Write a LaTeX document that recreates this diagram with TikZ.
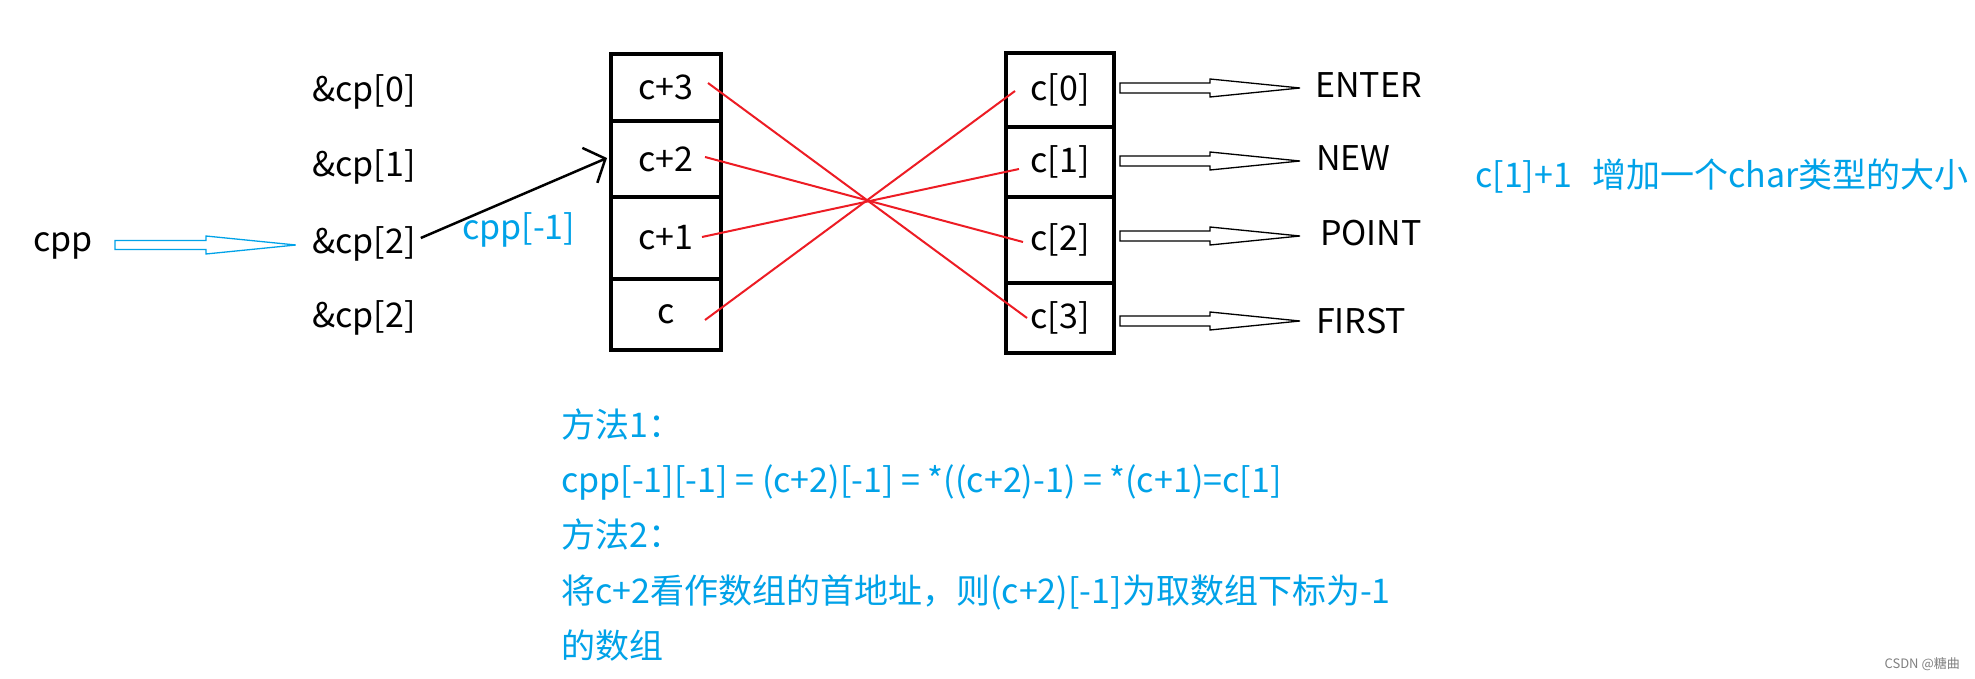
\documentclass[tikz,border=0pt]{standalone}
\usepackage{fontspec}
\setmainfont{Noto Sans CJK SC}
\definecolor{pblue}{RGB}{0,162,232}
\definecolor{pred}{RGB}{237,28,36}
\usetikzlibrary{arrows.meta,calc}

\begin{document}
\begin{tikzpicture}[
  x=1pt,y=-1pt,
  cell/.style={draw,line width=4pt,minimum width=110pt,inner sep=0pt,
    font=\fontsize{34}{40}\selectfont},
  lbl/.style={anchor=west,inner sep=0pt,font=\fontsize{34}{40}\selectfont},
  note/.style={lbl,pblue},
  hollow/.style={draw,line width=1.3pt,fill=white},
  redline/.style={pred,line width=2pt},
  ptr/.style={line width=2.5pt,-{Straight Barb[length=17pt,width=38pt]}}
]
  \fill[white] (0,0) rectangle (1975,679);
  % pointer column
  \node[lbl] (cpp) at (33,246) {cpp};
  \node[lbl] (amp0) at (312,92) {\&cp[0]};
  \node[lbl] (amp1) at (312,167) {\&cp[1]};
  \node[lbl] (amp2) at (312,244) {\&cp[2]};
  \node[lbl] (amp3) at (312,318) {\&cp[2]};
  \draw[hollow,draw=pblue] ($(cpp.east)+(22,-1)$) ++(0,-4.5) -- ++(91,0) -- ++(0,-4.5)
    -- ++(90,9) -- ++(-90,9) -- ++(0,-4.5) -- ++(-91,0) -- cycle;
  \node[note] (cppm) at (462,230) {cpp[-1]};
  % cp column
  \node[cell,minimum height=67pt] (L3) at (666,87.5) {c+3};
  \node[cell,minimum height=76pt] (L2) at (666,159) {c+2};
  \node[cell,minimum height=82pt] (L1) at (666,238) {c+1};
  \node[cell,minimum height=71pt] (L0) at (666,314.5) {c};
  \draw[ptr] ($(amp2.east)+(5,-6)$) -- ($(L2.west)+(-2,-1)$);
  % c column
  \node[cell,minimum width=108pt,minimum height=74pt] (R0) at (1060,90) {c[0]};
  \node[cell,minimum width=108pt,minimum height=70pt] (R1) at (1060,162) {c[1]};
  \node[cell,minimum width=108pt,minimum height=86pt] (R2) at (1060,240) {c[2]};
  \node[cell,minimum width=108pt,minimum height=70pt] (R3) at (1060,318) {c[3]};
  \draw[redline] ($(L3)+(42,-4.5)$) -- ($(R3)+(-33,0)$);
  \draw[redline] ($(L2)+(39,-2)$) -- ($(R2)+(-37,2)$);
  \draw[redline] ($(L1)+(36,-1)$) -- ($(R1)+(-41,7)$);
  \draw[redline] ($(L0)+(39,5.5)$) -- ($(R0)+(-45,1)$);
  % strings
  \node[lbl] (w0) at (1315,85) {ENTER};
  \node[lbl] (w1) at (1316,158) {NEW};
  \node[lbl] (w2) at (1320,233) {POINT};
  \node[lbl] (w3) at (1316,321) {FIRST};
  \foreach \i/\dy in {0/-2,1/-1,2/-4,3/3}
    \draw[hollow] ($(R\i.east)+(4,\dy)$) ++(0,-5) -- ++(90,0) -- ++(0,-4)
      -- ++(90,9) -- ++(-90,9) -- ++(0,-4) -- ++(-90,0) -- cycle;
  \node[note] (inc) at (1475,176) {c[1]+1\hspace{20pt}增加一个char类型的大小};
  \node[note,align=left,font=\fontsize{34}{55.25}\selectfont] (way) at (561,535)
    {方法1：\\cpp[-1][-1] = (c+2)[-1] = *((c+2)-1) = *(c+1)=c[1]\\方法2：\\
     将c+2看作数组的首地址，则(c+2)[-1]为取数组下标为-1\\的数组};
  \node[anchor=east,inner sep=0pt,gray,font=\fontsize{13}{15}\selectfont] (mark)
    at (1960,664) {CSDN @糖曲};
\end{tikzpicture}
\end{document}
